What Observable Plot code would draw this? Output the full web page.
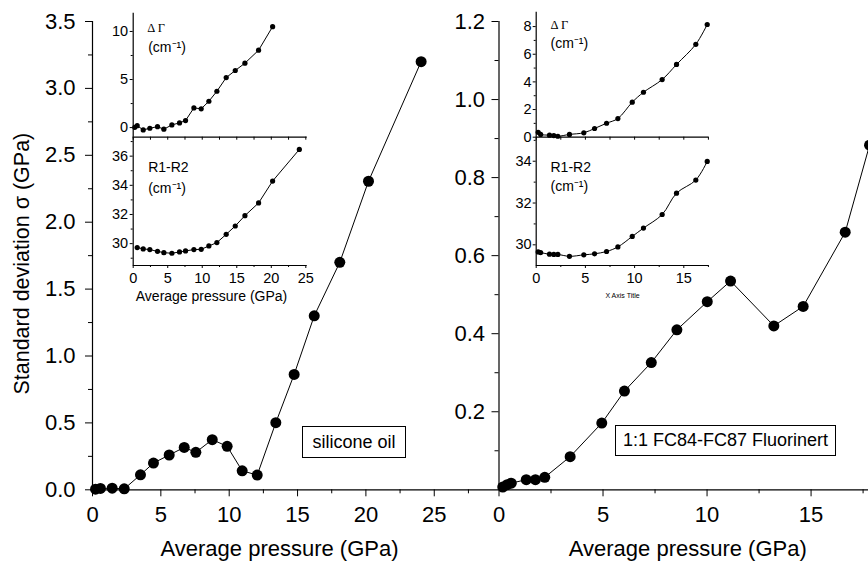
<!DOCTYPE html>
<html><head><meta charset="utf-8">
<script src="https://cdn.jsdelivr.net/npm/d3@7"></script>
<script src="https://cdn.jsdelivr.net/npm/@observablehq/plot@0.6"></script>
<style>
html,body{margin:0;padding:0;background:#fff;overflow:hidden;}
#chart{position:relative;width:868px;height:563px;overflow:hidden;background:#fff;font-family:"Liberation Sans",Arial,sans-serif;}
#chart svg{position:absolute;left:0;top:0;background:transparent;}
.box{position:absolute;box-sizing:border-box;border:1px solid #000;background:#fff;font-size:18px;display:flex;align-items:center;justify-content:center;white-space:nowrap;color:#000;}
</style></head><body>
<div id="chart">
  <div class="box" style="left:302px;top:426px;width:104px;height:32px;">silicone oil</div>
  <div class="box" style="left:615px;top:425px;width:221px;height:31px;">1:1 FC84-FC87 Fluorinert</div>
</div>
<script>
// ---------- data: silicone oil (left panel) ----------
const siliconePressure = [0.22, 0.58, 1.44, 2.32, 3.51, 4.46, 5.61, 6.71, 7.56, 8.76, 9.85, 10.95, 12.05, 13.41, 14.75, 16.22, 18.09, 20.19, 24.04];
const siliconeSigma    = [0.005, 0.01, 0.012, 0.007, 0.112, 0.2, 0.26, 0.317, 0.28, 0.375, 0.325, 0.142, 0.11, 0.502, 0.862, 1.3, 1.7, 2.306, 3.2];
const siliconeGammaPressure = [0.23, 0.58, 1.45, 2.41, 3.52, 4.44, 5.6, 6.71, 7.58, 8.79, 9.85, 10.96, 12.12, 13.47, 14.78, 16.18, 18.16, 20.19];
const siliconeDeltaGamma    = [0.03, 0.2, -0.24, -0.07, 0.1, -0.17, 0.28, 0.49, 0.73, 2.05, 1.95, 2.74, 3.78, 5.2, 5.94, 6.7, 8.05, 10.5];
const siliconeSplitPressure = [0.58, 1.45, 2.41, 3.52, 4.44, 5.6, 6.71, 7.58, 8.79, 9.85, 10.96, 12.12, 13.47, 14.78, 16.18, 18.16, 20.19, 24.06];
const siliconeR1R2          = [29.73, 29.64, 29.59, 29.47, 29.38, 29.34, 29.43, 29.5, 29.59, 29.61, 29.84, 30.07, 30.64, 31.21, 31.92, 32.79, 34.29, 36.46];

// ---------- data: 1:1 FC84-FC87 Fluorinert (right panel) ----------
const fluorPressure = [0.18, 0.39, 0.59, 1.31, 1.75, 2.2, 3.42, 4.94, 6.03, 7.32, 8.55, 10.01, 11.13, 13.21, 14.62, 16.64, 17.81];
const fluorSigma    = [0.007, 0.013, 0.017, 0.026, 0.026, 0.032, 0.085, 0.171, 0.253, 0.326, 0.41, 0.482, 0.535, 0.42, 0.47, 0.66, 0.883];
const fluorInsetPressure = [0.2, 0.45, 1.35, 1.79, 2.2, 3.38, 4.84, 5.93, 7.15, 8.3, 9.76, 10.9, 12.8, 14.26, 16.22, 17.38];
const fluorDeltaGamma    = [0.35, 0.2, 0.15, 0.12, 0.07, 0.2, 0.32, 0.63, 1.01, 1.35, 2.53, 3.25, 4.17, 5.26, 6.72, 8.15];
const fluorR1R2          = [29.66, 29.63, 29.55, 29.54, 29.54, 29.45, 29.52, 29.57, 29.68, 29.9, 30.4, 30.8, 31.45, 32.47, 33.1, 33.99];

// ---------- ticks & labels ----------
const leftMainXTicks  = [0, 5, 10, 15, 20, 25];
const leftMainXMinor  = [2.5, 7.5, 12.5, 17.5, 22.5, 27.5];
const leftMainYTicks  = [0, 0.5, 1, 1.5, 2, 2.5, 3, 3.5];
const leftMainYMinor  = [0.25, 0.75, 1.25, 1.75, 2.25, 2.75, 3.25];
const rightMainXTicks = [0, 5, 10, 15];
const rightMainXMinor = [2.5, 7.5, 12.5, 17.5];
const rightMainYTicks = [0.2, 0.4, 0.6, 0.8, 1.0, 1.2];
const rightMainYMinor = [0.1, 0.3, 0.5, 0.7, 0.9, 1.1];
const leftInsetXTicks = [0, 5, 10, 15, 20, 25];
const leftInsetXMinor = [2.5, 7.5, 12.5, 17.5, 22.5];
const leftGammaTicks  = [0, 5, 10];
const leftGammaMinor  = [2.5, 7.5];
const leftSplitTicks  = [30, 32, 34, 36];
const leftSplitMinor  = [29, 31, 33, 35, 37];
const rightInsetXTicks = [0, 5, 10, 15];
const rightInsetXMinor = [2.5, 7.5, 12.5, 17.5];
const rightGammaTicks  = [0, 2, 4, 6, 8];
const rightGammaMinor  = [1, 3, 5, 7];
const rightSplitTicks  = [30, 32, 34];
const rightSplitMinor  = [31, 33, 35];

const xTitle = "Average pressure (GPa)";
const yTitle = "Standard deviation σ (GPa)";
const gammaLabel = "Δ Γ";
const splitLabel = "R1-R2";
const unitLabel = "(cm⁻¹)";
const insetXTitleRight = "X Axis Title";

const FONT = "'Liberation Sans', Arial, sans-serif";

function panel(o) {
  const [l, t, r, b] = o.frame;
  const svg = Plot.plot({
    width: 868, height: 563,
    marginLeft: l, marginTop: t, marginRight: 868 - r, marginBottom: 563 - b,
    x: {domain: o.xDomain, axis: null},
    y: {domain: o.yDomain, axis: null},
    style: {background: "transparent", fontFamily: FONT, color: "black", overflow: "hidden"},
    marks: [
      Plot.ruleX([o.xDomain[0]], {stroke: "black", strokeWidth: 1.2}),
      Plot.ruleY([o.yDomain[0]], {stroke: "black", strokeWidth: 1.2}),
      ...o.marks
    ]
  });
  document.getElementById("chart").append(svg);
}

function series(xs, ys, r, curve) {
  return [
    Plot.line(xs, {x: xs, y: ys, stroke: "black", strokeWidth: 1, curve: curve || "linear"}),
    Plot.dot(xs, {x: xs, y: ys, r, fill: "black", stroke: "none"})
  ];
}

// ---------- left main ----------
panel({
  frame: [92, 21, 498, 489.3],
  xDomain: [0, 29.7], yDomain: [0, 3.5],
  marks: [
    Plot.axisY({ticks: leftMainYTicks, tickFormat: ".1f", tickSize: 7, tickPadding: 10, fontSize: 22, label: null}),
    Plot.axisY({ticks: leftMainYMinor, tickFormat: () => "", tickSize: 4, label: null}),
    Plot.axisX({ticks: leftMainXTicks, tickFormat: d => String(d), tickSize: 7, tickPadding: 10, fontSize: 22, label: null}),
    Plot.axisX({ticks: leftMainXMinor, tickFormat: () => "", tickSize: 4, label: null}),
    ...series(siliconePressure, siliconeSigma, 5.5),
    Plot.text([xTitle], {frameAnchor: "bottom", textAnchor: "middle", lineAnchor: "top", dx: -16, dy: 51, fontSize: 22}),
    Plot.text([yTitle], {frameAnchor: "left", textAnchor: "middle", lineAnchor: "middle", rotate: -90, dx: -70, dy: 8, fontSize: 21.5})
  ]
});

// ---------- right main ----------
panel({
  frame: [498.5, 21, 868, 489.3],
  xDomain: [0, 17.76], yDomain: [0, 1.2],
  marks: [
    Plot.axisY({ticks: rightMainYTicks, tickFormat: ".1f", tickSize: 7, tickPadding: 7, fontSize: 22, label: null}),
    Plot.axisY({ticks: rightMainYMinor, tickFormat: () => "", tickSize: 4, label: null}),
    Plot.axisX({ticks: rightMainXTicks, tickFormat: d => String(d), tickSize: 7, tickPadding: 10, fontSize: 22, label: null}),
    Plot.axisX({ticks: rightMainXMinor, tickFormat: () => "", tickSize: 4, label: null}),
    ...series(fluorPressure, fluorSigma, 5.5),
    Plot.text([xTitle], {frameAnchor: "bottom", textAnchor: "middle", lineAnchor: "top", dx: 4, dy: 51, fontSize: 22})
  ]
});

// ---------- left inset: ΔΓ ----------
panel({
  frame: [132.7, 12.7, 306.7, 136.7],
  xDomain: [0, 25.2], yDomain: [-1, 11.9],
  marks: [
    Plot.axisY({ticks: leftGammaTicks, tickFormat: d => String(d), tickSize: 3, tickPadding: 2, fontSize: 14.5, label: null}),
    Plot.axisY({ticks: leftGammaMinor, tickFormat: () => "", tickSize: 2, label: null}),
    Plot.axisX({ticks: leftInsetXTicks.concat(leftInsetXMinor), tickFormat: () => "", tickSize: 3, label: null}),
    ...series(siliconeGammaPressure, siliconeDeltaGamma, 2.6),
    Plot.text([gammaLabel], {frameAnchor: "top-left", textAnchor: "start", lineAnchor: "bottom", dx: 14, dy: 18.5, fontSize: 12.5, fontFamily: "'Liberation Serif', 'Times New Roman', serif"}),
    Plot.text([unitLabel], {frameAnchor: "top-left", textAnchor: "start", lineAnchor: "bottom", dx: 15, dy: 38.5, fontSize: 14})
  ]
});

// ---------- left inset: R1-R2 ----------
panel({
  frame: [132.7, 136.7, 306.7, 265],
  xDomain: [0, 25.2], yDomain: [28.5, 37.3],
  marks: [
    Plot.axisY({ticks: leftSplitTicks, tickFormat: d => String(d), tickSize: 3, tickPadding: 2, fontSize: 14.5, label: null}),
    Plot.axisY({ticks: leftSplitMinor, tickFormat: () => "", tickSize: 2, label: null}),
    Plot.axisX({ticks: leftInsetXTicks, tickFormat: d => String(d), tickSize: 3, tickPadding: 4, fontSize: 14.5, label: null}),
    Plot.axisX({ticks: leftInsetXMinor, tickFormat: () => "", tickSize: 2, label: null}),
    ...series(siliconeSplitPressure, siliconeR1R2, 2.6),
    Plot.text([splitLabel], {frameAnchor: "top-left", textAnchor: "start", lineAnchor: "bottom", dx: 15, dy: 35, fontSize: 14}),
    Plot.text([unitLabel], {frameAnchor: "top-left", textAnchor: "start", lineAnchor: "bottom", dx: 15, dy: 55.5, fontSize: 14}),
    Plot.text([xTitle], {frameAnchor: "bottom", textAnchor: "middle", lineAnchor: "top", dx: -8.7, dy: 25.5, fontSize: 14})
  ]
});

// ---------- right inset: ΔΓ ----------
panel({
  frame: [535.7, 11.7, 708.3, 136.7],
  xDomain: [0, 17.54], yDomain: [0, 9.04],
  marks: [
    Plot.axisY({ticks: rightGammaTicks, tickFormat: d => String(d), tickSize: 3, tickPadding: 1.5, fontSize: 14.5, label: null}),
    Plot.axisY({ticks: rightGammaMinor, tickFormat: () => "", tickSize: 2, label: null}),
    Plot.axisX({ticks: rightInsetXTicks.concat(rightInsetXMinor), tickFormat: () => "", tickSize: 3, label: null}),
    ...series(fluorInsetPressure, fluorDeltaGamma, 2.6, "catmull-rom"),
    Plot.text([gammaLabel], {frameAnchor: "top-left", textAnchor: "start", lineAnchor: "bottom", dx: 14.3, dy: 16.6, fontSize: 12.5, fontFamily: "'Liberation Serif', 'Times New Roman', serif"}),
    Plot.text([unitLabel], {frameAnchor: "top-left", textAnchor: "start", lineAnchor: "bottom", dx: 14.3, dy: 36, fontSize: 14})
  ]
});

// ---------- right inset: R1-R2 ----------
panel({
  frame: [535.7, 136.7, 708.3, 265],
  xDomain: [0, 17.54], yDomain: [29.01, 35.15],
  marks: [
    Plot.axisY({ticks: rightSplitTicks, tickFormat: d => String(d), tickSize: 3, tickPadding: 1.5, fontSize: 14.5, label: null}),
    Plot.axisY({ticks: rightSplitMinor, tickFormat: () => "", tickSize: 2, label: null}),
    Plot.axisX({ticks: rightInsetXTicks, tickFormat: d => String(d), tickSize: 3, tickPadding: 4, fontSize: 14.5, label: null}),
    Plot.axisX({ticks: rightInsetXMinor, tickFormat: () => "", tickSize: 2, label: null}),
    ...series(fluorInsetPressure, fluorR1R2, 2.6, "catmull-rom"),
    Plot.text([splitLabel], {frameAnchor: "top-left", textAnchor: "start", lineAnchor: "bottom", dx: 14.3, dy: 35, fontSize: 14}),
    Plot.text([unitLabel], {frameAnchor: "top-left", textAnchor: "start", lineAnchor: "bottom", dx: 14.3, dy: 53.5, fontSize: 14}),
    Plot.text([insetXTitleRight], {frameAnchor: "bottom", textAnchor: "middle", lineAnchor: "middle", dx: 0, dy: 30, fontSize: 7})
  ]
});

// keep legend boxes on top
document.querySelectorAll(".box").forEach(b => document.getElementById("chart").append(b));
</script>
</body></html>
